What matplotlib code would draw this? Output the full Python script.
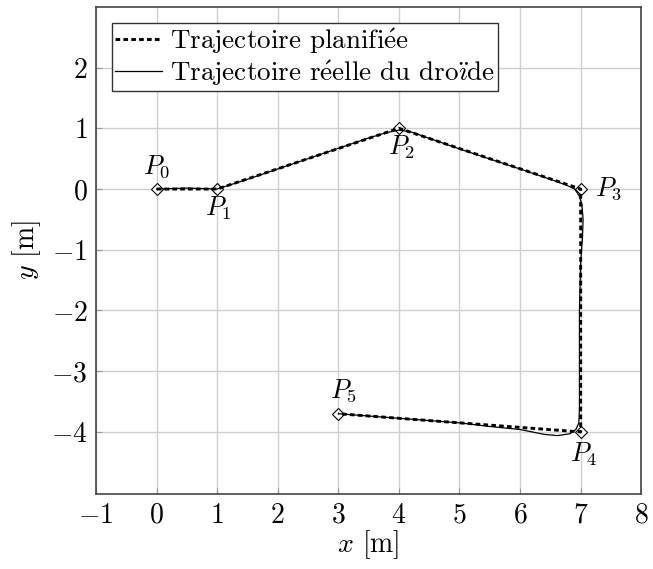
import matplotlib.pyplot as plt

plt.rcParams['font.family'] = ['cmr10', 'DejaVu Serif']
plt.rcParams['mathtext.fontset'] = 'cm'
plt.rcParams['axes.formatter.use_mathtext'] = True
plt.rcParams['axes.unicode_minus'] = True

# points de passage planifies
plan_x = [0, 1, 4, 7, 7, 3]
plan_y = [0, 0, 1, 0, -4, -3.7]
noms = ['$P_0$', '$P_1$', '$P_2$', '$P_3$', '$P_4$', '$P_5$']

# trajectoire reelle
reel_x = [0, 0.5, 1, 1.5, 2, 2.5, 3, 3.5, 3.8, 4, 4.2, 5, 6, 6.5, 6.75, 6.9,
          6.97, 7.02, 7.04, 7.03, 7.0, 6.98, 6.98, 6.98, 6.97, 6.92, 6.82,
          6.62, 6.4, 6.0, 5.5, 5.0, 4.0, 3.0]
reel_y = [0, 0.015, 0, 0.16, 0.33, 0.5, 0.67, 0.84, 0.93, 0.97, 0.94, 0.66,
          0.33, 0.16, 0.07, 0.0, -0.1, -0.25, -0.5, -0.8, -1.2, -2.0, -3.0,
          -3.6, -3.85, -3.96, -4.03, -4.06, -4.04, -3.96, -3.91, -3.85,
          -3.775, -3.7]

lab_plan = r'Trajectoire planifi$\mathrm{\acute{e}}$e'
lab_reel = r'Trajectoire r$\mathrm{\acute{e}}$elle du dro$\mathrm{\ddot{\imath}}$de'

fig, ax = plt.subplots(figsize=(6.53, 5.69), dpi=100)
fig.subplots_adjust(left=0.147, right=0.982, bottom=0.132, top=0.988)

ax.plot(plan_x, plan_y, color='black', lw=2.1, dashes=(1.6, 1.1),
        label=lab_plan, zorder=3)
ax.plot(reel_x, reel_y, color='black', lw=0.9, label=lab_reel, zorder=4)
ax.plot(plan_x, plan_y, ls='none', marker='D', ms=6.5, mfc='white',
        mec='black', mew=0.8, zorder=2)

decal = [(0, 16), (1, -14), (2, -14), (10, 0), (2, -16), (4, 17)]
for x, y, n, d in zip(plan_x, plan_y, noms, decal):
    ax.annotate(n, (x, y), xytext=d, textcoords='offset points',
                ha='center' if d[0] < 10 else 'left', va='center', fontsize=19)

ax.set_xlim(-1, 8)
ax.set_ylim(-5.02, 3)
ax.set_xticks(range(-1, 9))
ax.set_yticks(range(-4, 3))
ax.grid(True, color='#d0d0d0', lw=1)
ax.tick_params(direction='in', length=4, labelsize=20, color='#999999', pad=6)
ax.set_xlabel('$x$ [m]', fontsize=20, labelpad=0)
ax.set_ylabel('$y$ [m]', fontsize=20, labelpad=6)
for s in ax.spines.values():
    s.set_linewidth(1.2)
    s.set_color('#444444')

ax.legend(loc='upper left', fontsize=19.5, fancybox=False, edgecolor='#333333',
          framealpha=1, handlelength=1.7, borderpad=0.12, labelspacing=0.1,
          handletextpad=0.3, borderaxespad=0.6)

plt.savefig('out.png')
